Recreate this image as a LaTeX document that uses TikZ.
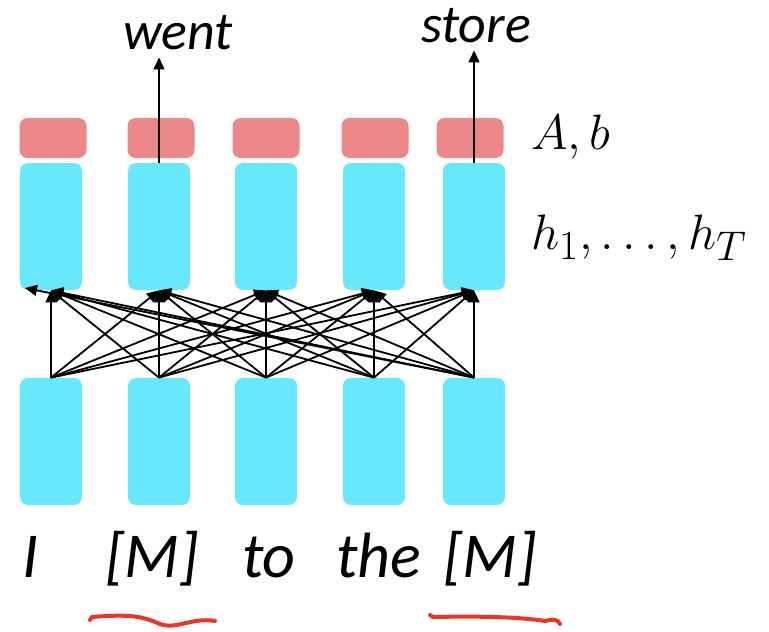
\documentclass[tikz,border=0pt]{standalone}
\usepackage{fontspec}
\newfontfamily\wordfont{Carlito}
\definecolor{cell_cyan}{RGB}{103, 232, 252}
\definecolor{cell_red}{RGB}{236, 136, 136}
\definecolor{pen_red}{RGB}{232, 56, 36}
\usetikzlibrary{arrows.meta}

\begin{document}
\begin{tikzpicture}[x=0.5pt, y=-0.5pt,
      hid/.style={fill=cell_cyan, rounded corners=4pt, inner sep=0pt,
                  minimum width=31pt, minimum height=63.5pt},
      emb/.style={fill=cell_red, rounded corners=4pt, inner sep=0pt,
                  minimum width=33.5pt, minimum height=20pt},
      wrd/.style={font=\wordfont\itshape\fontsize{32}{36}\selectfont, anchor=base},
      tgt/.style={font=\wordfont\itshape\fontsize{27}{30}\selectfont, anchor=base},
      arr/.style={-{Triangle[length=6pt, width=5.5pt]}, line width=0.9pt},
      pen/.style={draw=pen_red, line width=2pt, line cap=round}]
      \useasboundingbox (0,0) rectangle (769,631);
      % output layer
      \node[emb] (r1) at (53, 138) {};
      \node[emb] (r2) at (161,138) {};
      \node[emb] (r3) at (266,138) {};
      \node[emb] (r4) at (375,138) {};
      \node[emb] (r5) at (470,138) {};
      % hidden states
      \node[hid] (t1) at (51, 226.5) {};
      \node[hid] (t2) at (159,226.5) {};
      \node[hid] (t3) at (266,226.5) {};
      \node[hid] (t4) at (374,226.5) {};
      \node[hid] (t5) at (474,226.5) {};
      % input embeddings
      \node[hid] (b1) at (51, 441.5) {};
      \node[hid] (b2) at (159,441.5) {};
      \node[hid] (b3) at (266,441.5) {};
      \node[hid] (b4) at (374,441.5) {};
      \node[hid] (b5) at (474,441.5) {};
      \coordinate (stray) at (25,288);
      \foreach \i in {1,...,5}
        \foreach \j in {1,...,5}
          \draw[arr] (b\i.north) -- (t\j.south);
      \draw[arr] (b5.north) -- (stray);
      % predictions
      \node[tgt] (went)  at (178,50) {went};
      \node[tgt] (store) at (476,43) {store};
      \draw[arr, line width=0.7pt] (t2.north) -- (t2.north |- went.south);
      \draw[arr, line width=0.7pt] (t5.north) -- (t5.north |- store.south);
      \node[anchor=west, font=\fontsize{23}{26}\selectfont] (ab) at (524,137) {$A, b$};
      \node[anchor=west, font=\fontsize{30}{34}\selectfont] (hs) at (524,238) {$h_1, \dots, h_T$};
      % sentence
      \node[wrd] (w1) at (31, 577) {I};
      \node[wrd] (w2) at (152,577) {[M]};
      \node[wrd] (w3) at (269,577) {to};
      \node[wrd] (w4) at (379,577) {the};
      \node[wrd] (w5) at (490,577) {[M]};
      % masked words
      \draw[pen] (90,620) -- (92,617) .. controls (130,614) and (142,616) .. (160,624)
                 .. controls (176,630) and (192,617) .. (215,621);
      \draw[pen] (430,615) -- (433,617) .. controls (480,616) and (520,617) .. (545,621)
                 .. controls (552,619) and (558,619) .. (560,624);
    \end{tikzpicture}
\end{document}
